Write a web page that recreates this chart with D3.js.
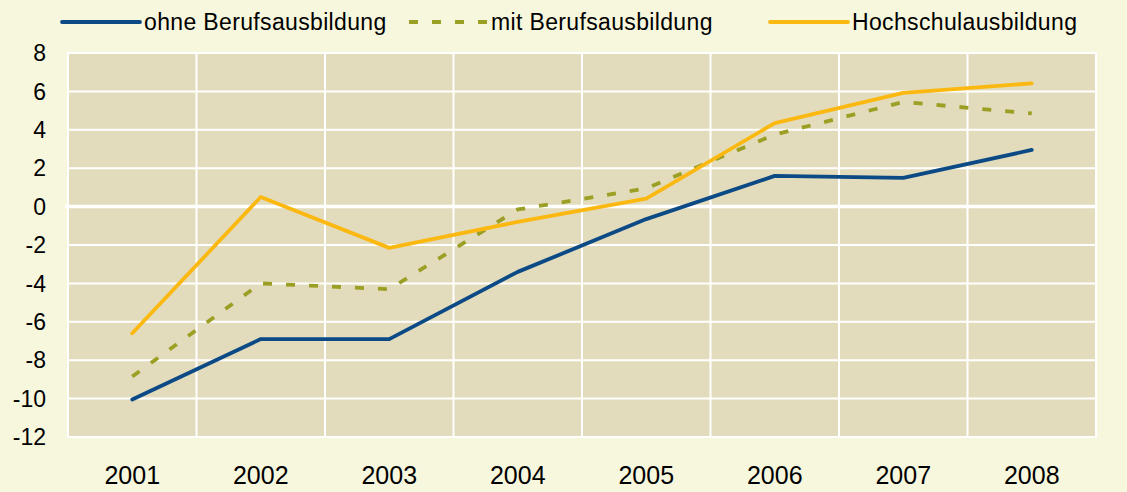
<!DOCTYPE html>
<html>
<head>
<meta charset="utf-8">
<script src="https://cdn.jsdelivr.net/npm/d3@7"></script>
<style>
  html, body { margin: 0; padding: 0; background: #f7f7de; }
  svg { display: block; font-family: "Liberation Sans", Arial, sans-serif; }
</style>
</head>
<body>
<svg id="chart" width="1127" height="492"></svg>
<script>
// Jahre und Werte
const years = ["2001", "2002", "2003", "2004", "2005", "2006", "2007", "2008"];
const ohneBeruf = [-10.05, -6.9, -6.9, -3.4, -0.65, 1.6, 1.5, 2.95];
const mitBeruf = [-8.85, -4.0, -4.3, -0.15, 0.95, 3.75, 5.45, 4.85];
const hochschule = [-6.6, 0.5, -2.15, -0.8, 0.42, 4.35, 5.92, 6.42];
const yTicks = [-12, -10, -8, -6, -4, -2, 0, 2, 4, 6, 8];

const series = [
    { name: "ohne Berufsausbildung", values: ohneBeruf, color: "#0c4a85", dash: null },
    { name: "mit Berufsausbildung", values: mitBeruf, color: "#9b9f23", dash: "9,14" },
    { name: "Hochschulausbildung", values: hochschule, color: "#fbb811", dash: null }
];

const svg = d3.select("#chart");
const pLeft = 68, pRight = 1096, pTop = 53, pBottom = 437;

const x = d3.scaleBand().domain(years).range([pLeft, pRight]);
const y = d3.scaleLinear().domain([-12, 8]).range([pBottom, pTop]);

// Plotfläche
svg.append("rect")
    .attr("x", pLeft).attr("y", pTop)
    .attr("width", pRight - pLeft).attr("height", pBottom - pTop)
    .attr("fill", "#e2dcbd")
    .attr("stroke", "#ffffff").attr("stroke-width", 2);

// horizontale Gitterlinien
svg.selectAll("line.hgrid").data(yTicks).enter().append("line")
    .attr("class", "hgrid")
    .attr("x1", d => d === 0 ? pLeft - 3 : pLeft).attr("x2", pRight)
    .attr("y1", d => y(d)).attr("y2", d => y(d))
    .attr("stroke", "#ffffff")
    .attr("stroke-width", d => d === 0 ? 3.5 : 2);

// vertikale Gitterlinien zwischen den Jahren
svg.selectAll("line.vgrid").data(years.slice(1)).enter().append("line")
    .attr("class", "vgrid")
    .attr("x1", d => x(d)).attr("x2", d => x(d))
    .attr("y1", pTop).attr("y2", pBottom)
    .attr("stroke", "#ffffff").attr("stroke-width", 2);

// Achsenbeschriftung y
svg.selectAll("text.ytick").data(yTicks).enter().append("text")
    .attr("class", "ytick")
    .attr("x", 46).attr("y", d => y(d))
    .attr("dy", "0.36em")
    .attr("text-anchor", "end")
    .attr("font-size", 23)
    .attr("fill", "#000")
    .text(d => d);

// Achsenbeschriftung x
svg.selectAll("text.xtick").data(years).enter().append("text")
    .attr("class", "xtick")
    .attr("x", d => x(d) + x.bandwidth() / 2).attr("y", 484)
    .attr("text-anchor", "middle")
    .attr("font-size", 25)
    .attr("fill", "#000")
    .text(d => d);

// Linien
const line = d3.line()
    .x((d, i) => x(years[i]) + x.bandwidth() / 2)
    .y(d => y(d));

series.forEach(s => {
    svg.append("path")
        .attr("d", line(s.values))
        .attr("fill", "none")
        .attr("stroke", s.color)
        .attr("stroke-width", 3.8)
        .attr("stroke-linejoin", "round")
        .attr("stroke-linecap", s.dash ? "butt" : "round")
        .attr("stroke-dasharray", s.dash);
});

// Legende
const legendPos = [62, 409, 770];
const lg = svg.selectAll("g.legend").data(series).enter().append("g")
    .attr("class", "legend")
    .attr("transform", (d, i) => `translate(${legendPos[i]},22)`);

lg.append("line")
    .attr("x1", 0).attr("x2", 78).attr("y1", 0).attr("y2", 0)
    .attr("stroke", d => d.color)
    .attr("stroke-width", 3.8)
    .attr("stroke-linecap", d => d.dash ? "butt" : "round")
    .attr("stroke-dasharray", d => d.dash);

lg.append("text")
    .attr("x", 82).attr("y", 0).attr("dy", "0.36em")
    .attr("font-size", 23)
    .attr("letter-spacing", 0.35)
    .attr("fill", "#000")
    .text(d => d.name);
</script>
</body>
</html>
